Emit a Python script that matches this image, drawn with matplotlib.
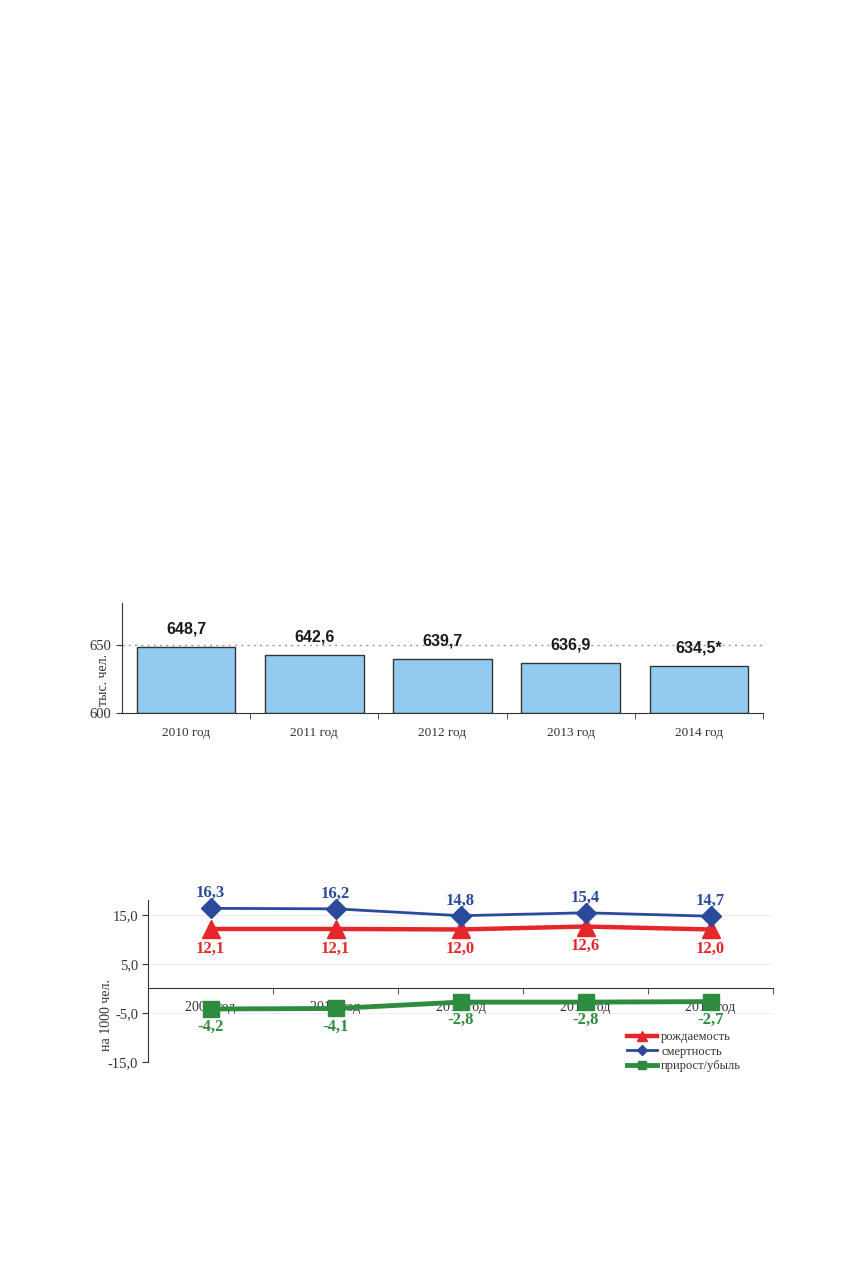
import matplotlib
matplotlib.use("Agg")
import matplotlib.pyplot as plt
from matplotlib.ticker import FixedLocator
from matplotlib.lines import Line2D

# ---- data ----
pop_years = ["2010 год", "2011 год", "2012 год", "2013 год", "2014 год"]
pop_values = [648.7, 642.6, 639.7, 636.9, 634.5]
pop_labels = ["648,7", "642,6", "639,7", "636,9", "634,5*"]

rate_years = ["2009 год", "2010 год", "2011 год", "2012 год", "2013 год"]
birth = [12.1, 12.1, 12.0, 12.6, 12.0]
death = [16.3, 16.2, 14.8, 15.4, 14.7]
growth = [-4.2, -4.1, -2.8, -2.8, -2.7]
series_names = ["рождаемость", "смертность", "прирост/убыль"]

SERIF = ["Liberation Serif", "DejaVu Serif"]
SANS = ["Liberation Sans", "DejaVu Sans"]

def fmt(v):
    return f"{v:.1f}".replace(".", ",")

fig = plt.figure(figsize=(8.56, 12.68), dpi=100)
W, H = 856, 1268

# ---------------- bar chart ----------------
ax1 = fig.add_axes([122 / W, 1 - 713 / H, (763 - 122) / W, (713 - 603) / H])
x = list(range(len(pop_years)))
ax1.axhline(650, color="#9a9a9a", lw=1.0, ls=(0, (1.5, 3)), zorder=0)
ax1.bar(x, [v - 600 for v in pop_values], bottom=600, width=0.77,
        color="#93CBF0", edgecolor="#333333", linewidth=1.0, zorder=2)
for xi, v, lab in zip(x, pop_values, pop_labels):
    ax1.annotate(lab, (xi, v), xytext=(0, 13), textcoords="offset points",
                 ha="center", va="center", fontsize=11.5, fontweight="bold",
                 family=SANS, color="#1a1a1a")
ax1.set_xlim(-0.5, 4.5)
ax1.set_ylim(600, 681)
ax1.set_yticks([600, 650])
ax1.set_yticklabels(["600", "650"], family=SERIF, fontsize=10.5, color="#333333")
ax1.set_xticks(x)
ax1.set_xticklabels(pop_years, family=SERIF, fontsize=9.5, color="#333333")
ax1.tick_params(axis="x", which="major", length=0, pad=10)
ax1.xaxis.set_minor_locator(FixedLocator([0.5, 1.5, 2.5, 3.5, 4.5]))
ax1.tick_params(axis="x", which="minor", length=4, direction="out", color="#333333")
ax1.tick_params(axis="y", length=4, direction="out", color="#333333", pad=4)
for s in ["top", "right"]:
    ax1.spines[s].set_visible(False)
for s in ["left", "bottom"]:
    ax1.spines[s].set_color("#333333")
ax1.text(-0.029, 0.3, "тыс. чел.", transform=ax1.transAxes, rotation=90,
         ha="center", va="center", family=SERIF, fontsize=10, color="#333333")

# ---------------- line chart ----------------
ax2 = fig.add_axes([148 / W, 1 - 1062 / H, (773 - 148) / W, (1062 - 900) / H])
ax2.spines["bottom"].set_position(("data", 0))
for yv in [15, 5, -5]:
    ax2.axhline(yv, color="#eeeeee", lw=0.8, zorder=0)
xs = list(range(len(rate_years)))
red, blue, green = "#E5272B", "#2A4B9B", "#2F8C3E"
ax2.plot(xs, birth, color=red, lw=3.2, marker="^", ms=13, zorder=4, clip_on=False)
ax2.plot(xs, death, color=blue, lw=2.0, marker="D", ms=10, zorder=4, clip_on=False)
ax2.plot(xs, growth, color=green, lw=3.5, marker="s", ms=11, zorder=4, clip_on=False)
lab_kw = dict(textcoords="offset points", ha="center", va="center",
              fontsize=12, fontweight="bold", family=SERIF)
for xi, v in zip(xs, death):
    ax2.annotate(fmt(v), (xi, v), xytext=(0, 11), color=blue, **lab_kw)
for xi, v in zip(xs, birth):
    ax2.annotate(fmt(v), (xi, v), xytext=(0, -14), color=red, **lab_kw)
for xi, v in zip(xs, growth):
    ax2.annotate(fmt(v), (xi, v), xytext=(0, -13), color=green, **lab_kw)
ax2.set_xlim(-0.5, 4.5)
ax2.set_ylim(-15, 18)
ax2.set_yticks([-15, -5, 5, 15])
ax2.set_yticklabels([fmt(v) for v in [-15, -5, 5, 15]], family=SERIF, fontsize=10.5,
                    color="#333333")
ax2.set_xticks(xs)
ax2.set_xticklabels(rate_years, family=SERIF, fontsize=10, color="#333333")
ax2.tick_params(axis="x", which="major", length=0, pad=9)
ax2.xaxis.set_minor_locator(FixedLocator([0.5, 1.5, 2.5, 3.5, 4.5]))
ax2.tick_params(axis="x", which="minor", length=4, direction="out", color="#333333")
ax2.tick_params(axis="y", length=4, direction="out", color="#333333", pad=3)
for s in ["top", "right"]:
    ax2.spines[s].set_visible(False)
for s in ["left", "bottom"]:
    ax2.spines[s].set_color("#333333")
ax2.text(-0.066, 0.29, "на 1000 чел.", transform=ax2.transAxes, rotation=90,
         ha="center", va="center", family=SERIF, fontsize=10, color="#333333")

h1 = Line2D([], [], color=red, lw=3.2, marker="^", ms=7)
h2 = Line2D([], [], color=blue, lw=2.0, marker="D", ms=5)
h3 = Line2D([], [], color=green, lw=3.5, marker="s", ms=6)
leg = ax2.legend([h1, h2, h3], series_names, loc="upper left",
                 bbox_to_anchor=(0.755, 0.235), frameon=False,
                 prop={"family": SERIF, "size": 9}, handlelength=2.4,
                 handletextpad=0.3, labelspacing=0.18, borderpad=0.1)
for t in leg.get_texts():
    t.set_color("#333333")

fig.savefig("out.png", dpi=100)
